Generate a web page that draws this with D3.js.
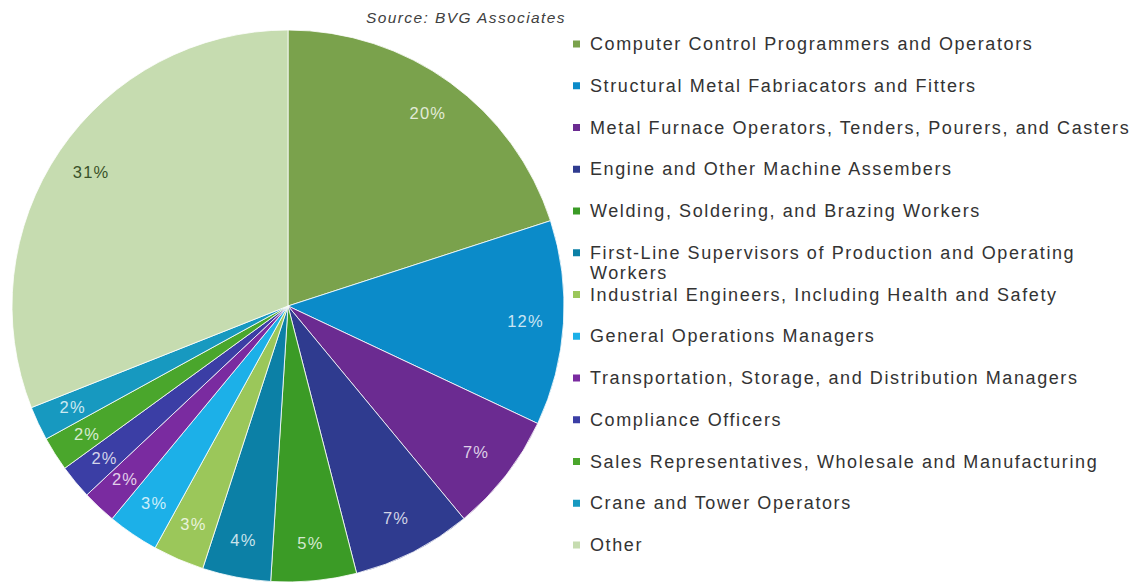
<!DOCTYPE html>
<html>
<head>
<meta charset="utf-8">
<script src="https://cdn.jsdelivr.net/npm/d3@7"></script>
<style>
  html, body { margin: 0; padding: 0; background: #ffffff; }
  svg { display: block; }
</style>
</head>
<body>
<svg id="chart" width="1133" height="586"></svg>
<script>
const categories = [
  "Computer Control Programmers and Operators",
  "Structural Metal Fabriacators and Fitters",
  "Metal Furnace Operators, Tenders, Pourers, and Casters",
  "Engine and Other Machine Assembers",
  "Welding, Soldering, and Brazing Workers",
  "First-Line Supervisors of Production and Operating Workers",
  "Industrial Engineers, Including Health and Safety",
  "General Operations Managers",
  "Transportation, Storage, and Distribution Managers",
  "Compliance Officers",
  "Sales Representatives, Wholesale and Manufacturing",
  "Crane and Tower Operators",
  "Other"
];
const values = [20, 12, 7, 7, 5, 4, 3, 3, 2, 2, 2, 2, 31];
const colors = [
  "#7aa24c", "#0b8bc9", "#6b2b91", "#2f3b8f", "#3b9b26", "#0c80a6",
  "#9bc75a", "#1cb0e8", "#7a2ba0", "#3b3ea5", "#4aa62c", "#1799c0", "#c6dcb0"
];
const legendLines = [
  ["Computer Control Programmers and Operators"],
  ["Structural Metal Fabriacators and Fitters"],
  ["Metal Furnace Operators, Tenders, Pourers, and Casters"],
  ["Engine and Other Machine Assembers"],
  ["Welding, Soldering, and Brazing Workers"],
  ["First-Line Supervisors of Production and Operating", "Workers"],
  ["Industrial Engineers, Including Health and Safety"],
  ["General Operations Managers"],
  ["Transportation, Storage, and Distribution Managers"],
  ["Compliance Officers"],
  ["Sales Representatives, Wholesale and Manufacturing"],
  ["Crane and Tower Operators"],
  ["Other"]
];
const sourceText = "Source: BVG Associates";

const svg = d3.select("#chart");
const cx = 288, cy = 306, R = 276, labelR = 238;

const pie = d3.pie().value(d => d).sort(null);
const arcs = pie(values);
const arc = d3.arc().innerRadius(0).outerRadius(R);
const labelArc = d3.arc().innerRadius(labelR).outerRadius(labelR);

const g = svg.append("g").attr("transform", `translate(${cx},${cy})`);
g.selectAll("path").data(arcs).enter().append("path")
  .attr("d", arc)
  .attr("fill", (d, i) => colors[i])
  .attr("stroke", "#ffffff")
  .attr("stroke-width", 0.8);

g.selectAll("text.lbl").data(arcs).enter().append("text")
  .attr("class", "lbl")
  .attr("transform", d => `translate(${labelArc.centroid(d)})`)
  .attr("text-anchor", "middle")
  .attr("dominant-baseline", "central")
  .attr("font-family", "Liberation Sans, Arial, sans-serif")
  .attr("font-size", 16.5)
  .attr("letter-spacing", 1.2)
  .attr("fill", (d, i) => i === values.length - 1 ? "#3a5229" : d3.interpolateRgb(colors[i], "#ffffff")(0.78))
  .text(d => d.data + "%");

svg.append("text")
  .attr("x", 466).attr("y", 17)
  .attr("text-anchor", "middle")
  .attr("dominant-baseline", "central")
  .attr("font-family", "Liberation Sans, Arial, sans-serif")
  .attr("font-style", "italic")
  .attr("font-size", 15.5)
  .attr("letter-spacing", 1.4)
  .attr("fill", "#404040")
  .text(sourceText);

const legendY = d3.scalePoint().domain(d3.range(categories.length)).range([44, 545]);
const lg = svg.append("g");
categories.forEach((c, i) => {
  const y = legendY(i);
  lg.append("rect")
    .attr("x", 573).attr("y", y - 3.5).attr("width", 7).attr("height", 7)
    .attr("fill", colors[i]);
  const t = lg.append("text")
    .attr("x", 590).attr("y", y)
    .attr("dominant-baseline", "central")
    .attr("font-family", "Liberation Sans, Arial, sans-serif")
    .attr("font-size", 18)
    .attr("letter-spacing", 1.6)
    .attr("fill", "#333333");
  legendLines[i].forEach((line, j) => {
    t.append("tspan").attr("x", 590).attr("dy", j === 0 ? 0 : 20).text(line);
  });
});
</script>
</body>
</html>
